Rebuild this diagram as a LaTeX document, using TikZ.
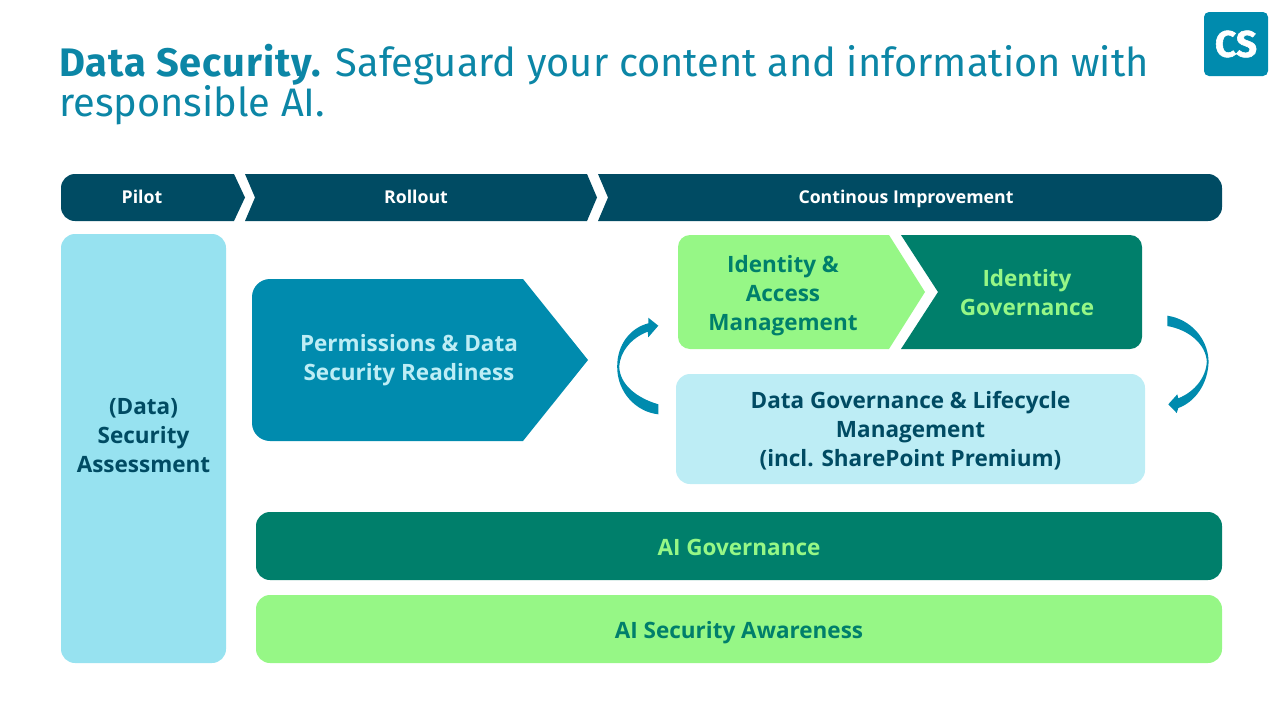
\documentclass[tikz,border=0pt]{standalone}
\usepackage{fontspec}
\setmainfont{Open Sans}
\newfontfamily\titlefont[BoldFeatures={LetterSpace=2.3}]{Fira Sans}
\newfontfamily\logofont[BoldFeatures={FakeBold=1.5}]{Fira Sans}
\usepackage{tikz}
\usetikzlibrary{positioning, calc}

\definecolor{darkblue}{HTML}{004B63}
\definecolor{tealblue}{HTML}{008BAE}
\definecolor{lightblue}{HTML}{97E2F0}
\definecolor{paleblue}{HTML}{BDEDF5}
\definecolor{lightgreen}{HTML}{96F786}
\definecolor{darkgreen}{HTML}{007F6B}
\definecolor{titleblue}{HTML}{0C86A6}

\tikzset{
	label/.style={font=\fontsize{22.5}{29}\selectfont\bfseries, align=center},
	phase/.style={font=\fontsize{17.7}{22}\selectfont\bfseries, text=white, anchor=base},
	box/.style={rounded corners=14pt, minimum width=#1, inner sep=0pt, anchor=center},
	barbox/.style={box=#1, label, minimum height=68pt, text height=22pt, text depth=4pt},
	cycle/.style={fill=tealblue, draw=none},
}

\begin{document}
\begin{tikzpicture}[x=1pt, y=-1pt]
			\useasboundingbox (0, 0) rectangle (1280, 720);
			
			% Title
			\node[anchor=north west, inner sep=0pt, align=left, text=titleblue, font=\titlefont\fontsize{39.8}{40.5}\selectfont] (title) at (59, 44) {\textbf{Data Security.} Safeguard your content and information with\\responsible AI.};
			
			% Logo
			\node[fill=tealblue, rounded corners=5pt, minimum size=64pt, inner sep=0pt, text=white, font=\logofont\fontsize{37}{37}\selectfont\bfseries] (logo) at (1236, 44) {CS};
			
			% Phase bar
			\fill[darkblue] (234, 174) [rounded corners=14pt] -- (61, 174) -- (61, 221) -- (100, 221) [sharp corners] -- (234, 221) -- (245, 197.5) -- cycle;
			\fill[darkblue] (245, 174) -- (587, 174) -- (597, 197.5) -- (587, 221) -- (245, 221) -- (255, 197.5) -- cycle;
			\fill[darkblue] (608, 197.5) -- (598, 174) -- (1180, 174) [rounded corners=14pt] -- (1222, 174) -- (1222, 221) -- (1180, 221) [sharp corners] -- (598, 221) -- cycle;
			\node[phase] (pilot) at (142, 203) {Pilot};
			\node[phase] (rollout) at (416, 203) {Rollout};
			\node[phase] (improve) at (906, 203) {Continous Improvement};
			
			% Left column
			\node[box=165pt, minimum height=429pt, fill=lightblue] (assess) at (143.5, 448.5) {};
			\node[label, text=darkblue] (assesstext) at (143.5, 435.5) {(Data)\\Security\\Assessment};
			
			% Readiness arrow
			\fill[tealblue] (523, 279) [rounded corners=18pt] -- (252, 279) -- (252, 441) -- (300, 441) [sharp corners] -- (523, 441) -- (588, 360) -- cycle;
			\node[label, text=paleblue] (ready) at (409, 360) {Permissions \& Data\\Security Readiness};
			
			% Identity boxes
			\fill[lightgreen] (889, 235) [rounded corners=12pt] -- (678, 235) -- (678, 349) -- (720, 349) [sharp corners] -- (889, 349) -- (925, 292) -- cycle;
			\node[label, text=darkgreen] (iam) at (783, 296) {Identity \&\\Access\\Management};
			\fill[darkgreen] (938, 292) -- (901, 235) -- (1100, 235) [rounded corners=12pt] -- (1142, 235) -- (1142, 349) -- (1100, 349) [sharp corners] -- (901, 349) -- cycle;
			\node[label, text=lightgreen] (idgov) at (1027, 293) {Identity\\Governance};
			
			% Data governance
			\node[box=469pt, minimum height=110pt, fill=paleblue] (dgov) at (910.5, 429) {};
			\node[label, text=darkblue] (dgovtext) at (910.5, 431) {Data Governance \& Lifecycle\\Management\\(incl. SharePoint Premium)};
			
			% Cycle arrows
			\fill[cycle] (658.3, 404.3) .. controls (637, 398) and (620, 385) .. (619.2, 366.7) .. controls (620, 352) and (631, 338) .. (647.7, 331.7) -- (648.3, 337.3) -- (658.3, 325.7) -- (648.3, 317.7) -- (648.3, 323.3) .. controls (630, 328) and (617, 345) .. (617.2, 366.7) .. controls (617, 392) and (636, 412) .. (658.3, 414.3) -- cycle;
			\fill[cycle] (1167.3, 315.7) .. controls (1190, 319) and (1208, 338) .. (1208.6, 361.7) .. controls (1208, 384) and (1195, 402) .. (1178.3, 408) -- (1176.7, 413) -- (1168.3, 404.3) -- (1177.3, 394.3) -- (1178.3, 398.3) .. controls (1194, 392) and (1206, 378) .. (1206.8, 361.7) .. controls (1206, 345) and (1190, 330) .. (1167.3, 326) -- cycle;
			
			% AI bars
			\node[barbox=966pt, fill=darkgreen, text=lightgreen] (aigov) at (739, 546) {AI Governance};
			\node[barbox=966pt, fill=lightgreen, text=darkgreen] (aisec) at (739, 629) {AI Security Awareness};
		\end{tikzpicture}
\end{document}
